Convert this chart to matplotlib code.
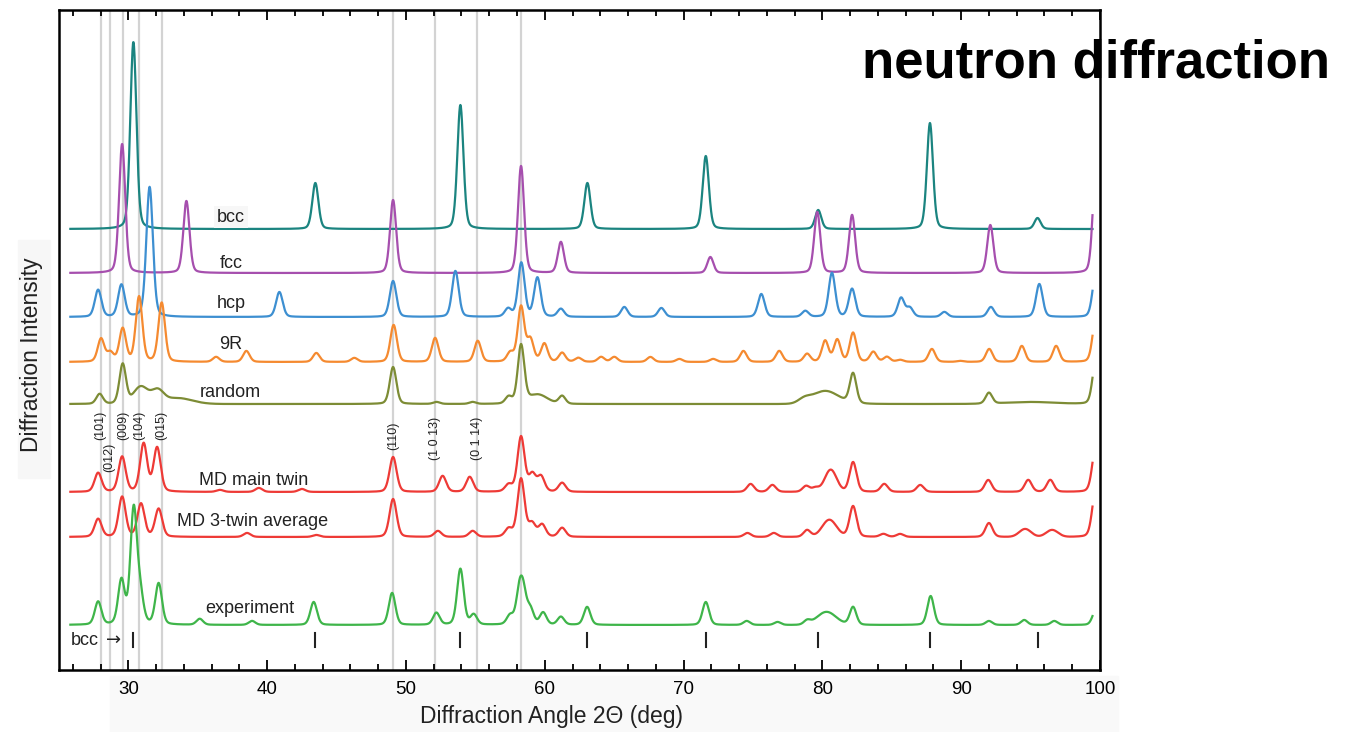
import numpy as np
import matplotlib.pyplot as plt
from matplotlib.ticker import MultipleLocator
from matplotlib.patches import Rectangle

plt.rcParams['font.family'] = ['Liberation Sans', 'DejaVu Sans']

# 2-theta grid of the patterns (deg)
two_theta = np.linspace(25.82, 99.46, 4000)

# peak positions (deg) and heights above each pattern's baseline
bcc_pos = [30.36, 43.47, 53.92, 63.07, 71.60, 79.70, 87.75, 95.50]
bcc_amp = [187, 46, 124, 46, 73, 19, 106, 11]

fcc_pos = [29.55, 34.18, 49.07, 58.29, 61.16, 71.93, 79.63, 82.14, 92.10, 99.70]
fcc_amp = [129, 72, 73, 107, 31, 16, 61, 58, 48, 105]

hcp_pos = [27.82, 29.50, 31.53, 40.88, 49.07, 53.56, 57.36, 58.31, 59.47, 61.16,
           65.73, 68.40, 75.60, 78.77, 80.69, 82.14, 85.67, 86.30, 88.79, 92.14,
           95.63, 99.70]
hcp_amp = [27, 32, 130, 25, 36, 46, 8, 54, 39, 8,
           10, 9, 23, 6, 44, 28, 19, 9, 5, 10,
           33, 44]

r9_pos = [28.03, 28.70, 29.59, 30.77, 32.40, 36.32, 38.50, 43.54, 46.28, 49.11,
          52.10, 55.17, 57.52, 58.29, 58.96, 59.97, 61.25, 62.42, 64.06, 65.01,
          67.61, 69.70, 72.13, 74.31, 76.89, 78.90, 80.20, 81.07, 82.21, 83.67,
          84.65, 85.60, 87.89, 89.93, 92.02, 94.37, 96.84, 99.70]
r9_amp = [23, 9, 33, 65, 59, 5, 11, 9, 4, 37,
          24, 21, 9, 55, 22, 18, 9, 4, 5, 5,
          5, 3, 3, 11, 11, 8, 21, 22, 29, 10,
          5, 2, 13, 1, 13, 16, 16, 44]

random_pos = [27.93, 29.59, 49.07, 52.20, 54.80, 57.40, 58.29, 61.25, 82.21, 92.00, 99.70]
random_amp = [10, 40, 37, 2, 2, 7, 58, 8, 30, 11, 44]
random_broad_pos = [30.90, 32.10, 33.50, 59.50, 78.70, 80.20, 95.00]
random_broad_amp = [17, 12, 6, 9, 4, 13, 2]
random_broad_fwhm = [1.2, 1.0, 2.5, 1.6, 1.0, 2.2, 4.0]

main_pos = [27.82, 29.55, 31.10, 32.07, 36.60, 39.40, 42.50, 49.07, 52.64, 54.59,
            57.40, 58.29, 59.10, 59.73, 61.25, 74.83, 76.40, 78.83, 79.50, 82.21,
            84.46, 87.05, 91.95, 94.83, 96.42, 99.70]
main_amp = [19, 35, 48, 44, 2, 4, 3, 35, 16, 15,
            7, 55, 17, 15, 9, 8, 7, 6, 4, 30,
            8, 7, 12, 12, 12, 46]
main_broad_pos = [80.60]
main_broad_amp = [22]
main_broad_fwhm = [1.0]

twin3_pos = [27.82, 29.55, 30.91, 32.18, 38.55, 43.54, 49.07, 52.30, 54.80, 57.40,
             58.29, 59.08, 59.81, 61.25, 74.60, 76.50, 78.90, 82.21, 84.40, 85.60,
             92.00, 99.70]
twin3_amp = [18, 40, 33, 28, 4, 2, 38, 6, 6, 8,
             58, 13, 12, 9, 4, 4, 7, 31, 3, 3,
             14, 48]
twin3_broad_pos = [80.50, 94.61, 96.55]
twin3_broad_amp = [17, 8, 7]
twin3_broad_fwhm = [1.2, 1.0, 1.0]

exp_pos = [27.82, 29.50, 30.38, 30.85, 32.18, 35.14, 38.91, 43.35, 49.00, 52.19,
           53.92, 54.88, 57.50, 58.17, 58.45, 58.96, 59.88, 61.16, 63.05, 71.60,
           74.55, 76.77, 78.90, 82.21, 87.80, 92.00, 94.54, 96.71, 99.70]
exp_amp = [23, 44, 114, 28, 41, 6, 4, 23, 32, 12,
           56, 10, 9, 30, 28, 15, 12, 8, 18, 23,
           4, 3, 4, 18, 29, 4, 5, 4, 15]
exp_broad_pos = [80.30]
exp_broad_amp = [13]
exp_broad_fwhm = [1.6]

# bcc reflections marked under the experiment
bcc_marks = [30.36, 43.47, 53.92, 63.07, 71.60, 79.70, 87.75, 95.50]

# reference lines and their hkl labels
ref_lines = [28.0, 28.65, 29.6, 30.8, 32.4, 49.05, 52.1, 55.15, 58.3]
hkl_pos = [28.0, 28.65, 29.6, 30.8, 32.4, 49.05, 52.1, 55.15]
hkl_text = ['(101)', '(012)', '(009)', '(104)', '(015)', '(110)', '(1 0 13)', '(0 1 14)']


def peaks(x, pos, amp, fwhm, eta=0.25):
    d = (x[:, None] - np.asarray(pos)[None, :]) / np.asarray(fwhm, dtype=float)
    g = np.exp(-4 * np.log(2) * d ** 2)
    lor = 1 / (1 + 4 * d ** 2)
    return ((1 - eta) * g + eta * lor) @ np.asarray(amp, dtype=float)


fig = plt.figure(figsize=(13.59, 7.32), dpi=100)
ax = fig.add_axes([0.0434, 0.0847, 0.7660, 0.9016])

# faint panels behind the axis titles
fig.patches.append(Rectangle((110 / 1359, 0), 1008 / 1359, 56 / 732,
                             transform=fig.transFigure, color='#f9f9f9', zorder=-1))
fig.patches.append(Rectangle((18 / 1359, 1 - 478 / 732), 32 / 1359, 238 / 732,
                             transform=fig.transFigure, color='#f7f7f7', zorder=-1))

for xl in ref_lines:
    ax.axvline(xl, color='#d3d3d3', lw=1.6, zorder=0)

curves = [
    ('bcc', 441, peaks(two_theta, bcc_pos, bcc_amp, 0.52), '#1b8480', (37.4, 453)),
    ('fcc', 397, peaks(two_theta, fcc_pos, fcc_amp, 0.52), '#a64fae', (37.4, 407)),
    ('hcp', 353, peaks(two_theta, hcp_pos, hcp_amp, 0.56), '#3d8fd1', (37.4, 367)),
    ('9R', 308, peaks(two_theta, r9_pos, r9_amp, 0.56), '#f58a30', (37.35, 326)),
    ('random', 266, peaks(two_theta, random_pos, random_amp, 0.56)
     + peaks(two_theta, random_broad_pos, random_broad_amp, random_broad_fwhm, eta=0),
     '#7d8c35', (37.33, 278)),
    ('MD main twin', 178, peaks(two_theta, main_pos, main_amp, 0.6)
     + peaks(two_theta, main_broad_pos, main_broad_amp, main_broad_fwhm, eta=0),
     '#ee3a36', (39.0, 190)),
    ('MD 3-twin average', 133, peaks(two_theta, twin3_pos, twin3_amp, 0.6)
     + peaks(two_theta, twin3_broad_pos, twin3_broad_amp, twin3_broad_fwhm, eta=0),
     '#ee3a36', (38.95, 149)),
    ('experiment', 45, peaks(two_theta, exp_pos, exp_amp, 0.56)
     + peaks(two_theta, exp_broad_pos, exp_broad_amp, exp_broad_fwhm, eta=0),
     '#3fb54a', (38.75, 62)),
]

for name, base, y, color, (tx, ty) in curves:
    ax.plot(two_theta, base + y, color=color, lw=1.6, zorder=2)
    bbox = dict(facecolor='#f7f7f7', edgecolor='none', pad=2) if name == 'bcc' else None
    ax.text(tx, ty, name, fontsize=13, ha='center', va='center', color='#222222',
            bbox=bbox, zorder=3)

# bcc reflection markers
for xm in bcc_marks:
    ax.plot([xm, xm], [23, 37], color='#222222', lw=1.5, zorder=3)
ax.text(25.85, 30, 'bcc', fontsize=13, ha='left', va='center', color='#222222')
ax.text(28.4, 30, '\u2192', fontsize=13, ha='left', va='center', color='#222222',
        family='DejaVu Sans')

# hkl labels of the 9R reflections
hkl_y = [230, 198, 230, 230, 230, 220, 210, 210]
for xh, yh, s in zip(hkl_pos, hkl_y, hkl_text):
    ax.text(xh, yh, s, rotation=90, fontsize=9, ha='center', va='bottom', color='#222222')

ax.set_xlim(25, 100)
ax.set_ylim(0, 660)
ax.set_yticks([])
ax.xaxis.set_major_locator(MultipleLocator(10))
ax.xaxis.set_minor_locator(MultipleLocator(2))
ax.tick_params(axis='x', which='both', direction='in', top=True, width=1.3,
               labelsize=13.5, pad=8)
ax.tick_params(axis='x', which='major', length=7)
ax.tick_params(axis='x', which='minor', length=4)
for sp in ax.spines.values():
    sp.set_linewidth(1.8)

fig.text(552 / 1359, 1 - 717 / 732, 'Diffraction Angle 2\u0398 (deg)', fontsize=16.5,
         ha='center', va='center', color='#222222')
fig.text(32 / 1359, 1 - 355 / 732, 'Diffraction Intensity', fontsize=16.5,
         rotation=90, ha='center', va='center', color='#222222')
fig.text(862 / 1359, 1 - 64 / 732, 'neutron diffraction', fontsize=38,
         fontweight='bold', ha='left', va='center', color='black', zorder=5)

fig.savefig('out.png', dpi=100)
